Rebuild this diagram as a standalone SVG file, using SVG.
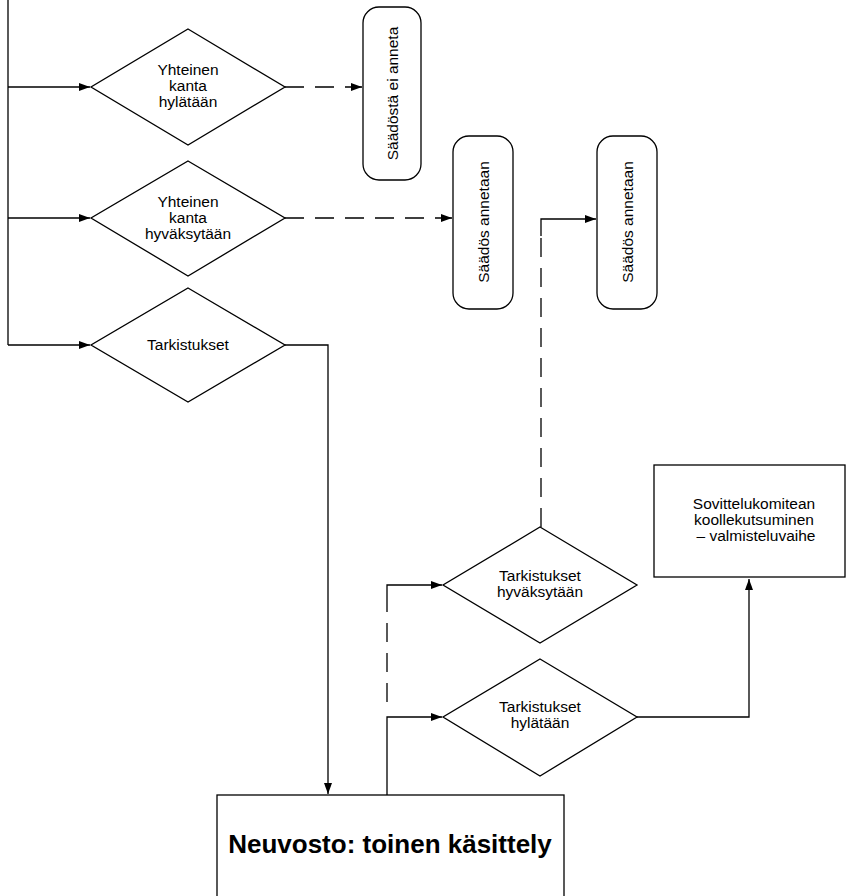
<svg xmlns="http://www.w3.org/2000/svg" width="848" height="896" viewBox="0 0 848 896">
<style>
.s{fill:#fff;stroke:#000;stroke-width:1.3}
.c{fill:none;stroke:#000;stroke-width:1.3}
.d{fill:none;stroke:#000;stroke-width:1.3;stroke-dasharray:19 11}
.t{font-family:"Liberation Sans",Arial,sans-serif;font-size:15.5px;fill:#000;text-anchor:middle}
.b{font-family:"Liberation Sans",Arial,sans-serif;font-size:26px;font-weight:bold;fill:#000;text-anchor:middle}
</style>
<defs>
<marker id="a" markerWidth="11" markerHeight="8" refX="11" refY="4" orient="auto" markerUnits="userSpaceOnUse">
<path d="M0,0 L11,4 L0,8 Z" fill="#000"/>
</marker>
</defs>
<rect width="848" height="896" fill="#fff"/>
<g id="connectors">
<path class="c" d="M8,0 V345"/>
<path class="c" d="M8,87 H90" marker-end="url(#a)"/>
<path class="c" d="M8,218 H90" marker-end="url(#a)"/>
<path class="c" d="M8,345 H90" marker-end="url(#a)"/>
<path class="d" d="M285,87 H362" marker-end="url(#a)"/>
<path class="d" d="M285,218 H452" marker-end="url(#a)"/>
<path class="c" d="M285,345 H328 V794" marker-end="url(#a)"/>
<path class="d" d="M541,527 V236"/>
<path class="c" d="M541,236 V219 H596" marker-end="url(#a)"/>
<path class="c" d="M387,795 V717 H442" marker-end="url(#a)"/>
<path class="d" d="M387,702 V602"/>
<path class="c" d="M387,602 V585 H442" marker-end="url(#a)"/>
<path class="c" d="M637,717 H749 V579" marker-end="url(#a)"/>
</g>
<g id="d1">
<polygon class="s" points="188,29 285,87 188,145 91,87"/>
<text class="t" x="188" y="75">Yhteinen</text>
<text class="t" x="188" y="91">kanta</text>
<text class="t" x="188" y="107">hylätään</text>
</g>
<g id="d2">
<polygon class="s" points="188,161 285,218 188,276 91,218"/>
<text class="t" x="188" y="207">Yhteinen</text>
<text class="t" x="188" y="223">kanta</text>
<text class="t" x="188" y="239">hyväksytään</text>
</g>
<g id="d3">
<polygon class="s" points="188,288 285,345 188,402 91,345"/>
<text class="t" x="188" y="350">Tarkistukset</text>
</g>
<g id="r1">
<rect class="s" x="363" y="7" width="58" height="173" rx="16"/>
<text class="t" transform="translate(397.5,93.5) rotate(-90)">Säädöstä ei anneta</text>
</g>
<g id="r2">
<rect class="s" x="453" y="136" width="60" height="173" rx="16"/>
<text class="t" transform="translate(488.5,222) rotate(-90)">Säädös annetaan</text>
</g>
<g id="r3">
<rect class="s" x="597" y="136" width="60" height="173" rx="16"/>
<text class="t" transform="translate(632.5,222) rotate(-90)">Säädös annetaan</text>
</g>
<g id="d4">
<polygon class="s" points="540,527 637,585 540,643 443,585"/>
<text class="t" x="540" y="581">Tarkistukset</text>
<text class="t" x="540" y="597">hyväksytään</text>
</g>
<g id="d5">
<polygon class="s" points="540,659 637,717 540,776 443,717"/>
<text class="t" x="540" y="712">Tarkistukset</text>
<text class="t" x="540" y="728">hylätään</text>
</g>
<g id="sovittelu">
<rect class="s" x="654" y="465" width="191" height="112"/>
<text class="t" x="754" y="509">Sovittelukomitean</text>
<text class="t" x="754" y="525">koollekutsuminen</text>
<text class="t" x="756" y="541">– valmisteluvaihe</text>
</g>
<g id="neuvosto">
<rect class="s" x="217" y="795" width="347" height="110"/>
<text class="b" x="390" y="853">Neuvosto: toinen käsittely</text>
</g>
</svg>
